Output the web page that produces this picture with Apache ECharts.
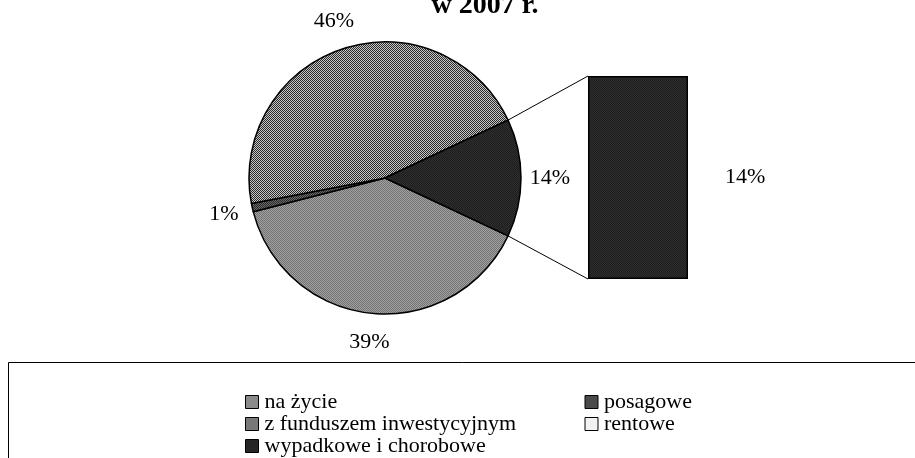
<!DOCTYPE html>
<html><head><meta charset="utf-8">
<script src="https://cdn.jsdelivr.net/npm/echarts@6/dist/echarts.min.js"></script>
<style>html,body{margin:0;padding:0;background:#fff}#c{width:915px;height:458px}</style>
</head><body><div id="c"></div>
<script>
// ---- data ----
const titleText = 'w 2007 r.';
const categories = ['na życie', 'posagowe', 'z funduszem inwestycyjnym', 'rentowe', 'wypadkowe i chorobowe'];
const shares = [39, 1, 46, 0, 14];            // % of total
const barCategories = ['wypadkowe i chorobowe']; // items split into the bar
const barShares = [14];

// ---- styling ----
function pattern(a, b) {
  const c = document.createElement('canvas');
  c.width = 2; c.height = 2;
  const g = c.getContext('2d');
  g.fillStyle = a; g.fillRect(0, 0, 2, 2);
  g.fillStyle = b; g.fillRect(0, 0, 1, 1); g.fillRect(1, 1, 1, 1);
  return { image: c, repeat: 'repeat' };
}
const fills = {
  'na życie': pattern('#a2a2a2', '#727272'),
  'posagowe': pattern('#6a6a6a', '#2a2a2a'),
  'z funduszem inwestycyjnym': pattern('#c6c6c6', '#2a2a2a'),
  'rentowe': pattern('#ffffff', '#e4e4e4'),
  'wypadkowe i chorobowe': pattern('#303030', '#1c1c1c')
};
const FONT = 'Liberation Serif';
const cx = 385, cy = 178, R = 136, LABEL_OFF = 29;
const gridL = 588, gridT = 76, gridW = 100, gridH = 203;

const total = shares.reduce((s, v) => s + v, 0);
const barTotal = barShares.reduce((s, v) => s + v, 0);
const halfOther = barTotal / total * 180;      // half angle of the "other" slice
const startAngle = 360 - halfOther;

// mid angles of slices (deg, math convention), clockwise from startAngle
const mids = [];
let acc = startAngle;
shares.forEach(v => { const a = v / total * 360; mids.push(acc - a / 2); acc -= a; });

const chart = echarts.init(document.getElementById('c'), null, { renderer: 'canvas' });
chart.setOption({
  animation: false,
  backgroundColor: '#fff',
  textStyle: { fontFamily: FONT, color: '#000' },
  legend: {
    data: categories,
    left: 240, top: 386, width: 700,
    orient: 'horizontal',
    icon: 'rect', itemWidth: 13, itemHeight: 13, itemGap: 0,
    itemStyle: { borderColor: '#000', borderWidth: 1 },
    textStyle: { fontFamily: FONT, fontSize: 22, color: '#000', width: 320, lineHeight: 21, padding: [0, 0, 0, 1] },
    selectedMode: false
  },
  grid: { left: gridL, top: gridT, width: gridW, height: gridH, containLabel: false },
  xAxis: { type: 'category', data: ['bar'], show: false },
  yAxis: { type: 'value', min: 0, max: barTotal, show: false },
  series: [
    {
      type: 'pie',
      center: [cx, cy], radius: R,
      startAngle: startAngle, clockwise: true,
      data: categories.map((n, i) => ({ name: n, value: shares[i], itemStyle: { color: fills[n] } })),
      itemStyle: { borderColor: '#000', borderWidth: 1.5 },
      label: {
        show: true, position: 'outside', fontFamily: FONT, fontSize: 22, color: '#000',
        formatter: p => p.value === 0 ? '' : Math.round(p.percent) + '%'
      },
      labelLine: { show: false },
      labelLayout: p => {
        const a = mids[p.dataIndex] * Math.PI / 180, d = R + LABEL_OFF;
        return { x: cx + d * Math.cos(a), y: cy - d * Math.sin(a), align: 'center', verticalAlign: 'middle' };
      },
      emphasis: { disabled: true }
    },
    ...barCategories.map((n, i) => ({
      type: 'bar', name: n, stack: 'other', barWidth: '100%',
      data: [barShares[i]],
      itemStyle: { color: fills[n], borderColor: '#000', borderWidth: 1.5 },
      label: { show: true, position: 'right', distance: 37, fontFamily: FONT, fontSize: 22, color: '#000', formatter: p => p.value + '%' },
      emphasis: { disabled: true }
    }))
  ]
});

// connectors from pie "other" slice edges to bar corners, and legend frame
const a = halfOther * Math.PI / 180;
const topY = chart.convertToPixel({ gridIndex: 0 }, [0, barTotal])[1];
const botY = chart.convertToPixel({ gridIndex: 0 }, [0, 0])[1];
chart.setOption({
  graphic: [
    { type: 'text', x: 485, y: 20, style: { text: titleText, font: 'bold 28px "Liberation Serif"', fill: '#000', align: 'center', verticalAlign: 'bottom' } },
    { type: 'line', shape: { x1: cx + R * Math.cos(a), y1: cy - R * Math.sin(a), x2: gridL, y2: topY }, style: { stroke: '#000', lineWidth: 1 } },
    { type: 'line', shape: { x1: cx + R * Math.cos(a), y1: cy + R * Math.sin(a), x2: gridL, y2: botY }, style: { stroke: '#000', lineWidth: 1 } },
    { type: 'rect', shape: { x: 8.5, y: 362.5, width: 1000, height: 200 }, style: { fill: 'none', stroke: '#000', lineWidth: 1 }, z: -1 }
  ]
});
</script></body></html>
